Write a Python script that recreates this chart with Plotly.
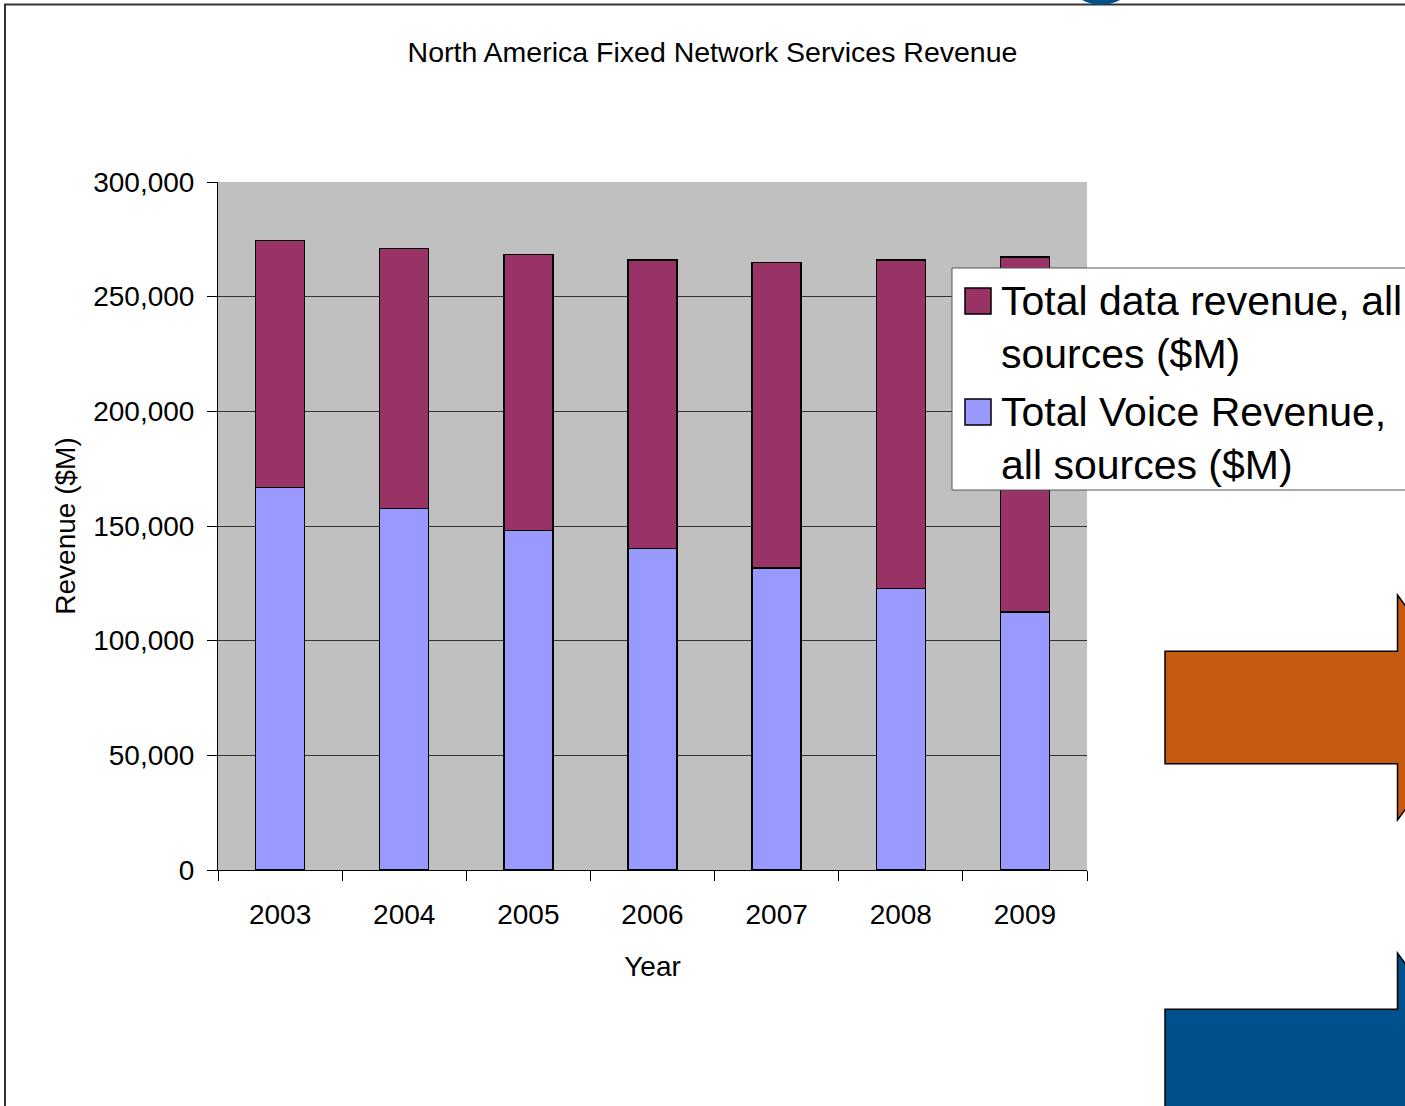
import plotly.graph_objects as go

# Revenue by year, $M
years = ["2003", "2004", "2005", "2006", "2007", "2008", "2009"]
voice_revenue = [166700, 157700, 148100, 140300, 131600, 122800, 112600]
data_revenue = [107900, 113200, 120200, 125700, 133400, 143200, 154800]

y_tick_vals = [0, 50000, 100000, 150000, 200000, 250000, 300000]
y_tick_text = ["0", "50,000", "100,000", "150,000", "200,000", "250,000", "300,000"]

data_name = "Total data revenue, all<br>sources ($M)"
voice_name = "Total Voice Revenue,<br>all sources ($M)"

DATA_COLOR = "#993366"
VOICE_COLOR = "#9999FF"
FONT = "Liberation Sans, Arial, sans-serif"

W, H = 1405, 1106
L, R, T, B = 218, 1087, 182, 870


def px(x):
    return (x - L) / (R - L)


def py(y):
    return (B - y) / (B - T)


fig = go.Figure()
fig.add_trace(go.Bar(
    x=years, y=voice_revenue, name=voice_name, width=0.395,
    marker=dict(color=VOICE_COLOR, line=dict(color="black", width=1.5)),
))
fig.add_trace(go.Bar(
    x=years, y=data_revenue, name=data_name, width=0.395,
    marker=dict(color=DATA_COLOR, line=dict(color="black", width=1.5)),
))

shapes = []

# outer frame of the slide panel
shapes.append(dict(
    type="path", xref="paper", yref="paper",
    path=f"M{px(5)},{py(1115)} L{px(5)},{py(4.5)} L{px(1415)},{py(4.5)}",
    line=dict(color="#333333", width=2),
))
# blue disc peeking in at the top edge
shapes.append(dict(
    type="circle", xref="paper", yref="paper",
    x0=px(1101 - 38.6), x1=px(1101 + 38.6), y0=py(5), y1=py(5 - 77.2),
    fillcolor="#00508C", line=dict(width=0),
))


def arrow_path(x0, xs, xt, yc, half_body, half_head):
    pts = [
        (x0, yc - half_body), (xs, yc - half_body), (xs, yc - half_head),
        (xt, yc), (xs, yc + half_head), (xs, yc + half_body), (x0, yc + half_body),
    ]
    return "M" + " L".join(f"{px(a)},{py(b)}" for a, b in pts) + " Z"


shapes.append(dict(
    type="path", xref="paper", yref="paper",
    path=arrow_path(1165, 1397.5, 1480, 707.5, 56.2, 112.5),
    fillcolor="#C55A11", line=dict(color="black", width=1.5),
))
shapes.append(dict(
    type="path", xref="paper", yref="paper",
    path=arrow_path(1165, 1397.5, 1480, 1065.5, 56.2, 112.5),
    fillcolor="#00508C", line=dict(color="black", width=1.5),
))

# legend panel
shapes.append(dict(
    type="rect", xref="paper", yref="paper",
    x0=px(952), x1=px(1430), y0=py(490), y1=py(268),
    fillcolor="white", line=dict(color="#555555", width=1),
))
shapes.append(dict(
    type="rect", xref="paper", yref="paper",
    x0=px(965), x1=px(991), y0=py(314), y1=py(288),
    fillcolor=DATA_COLOR, line=dict(color="black", width=1.5),
))
shapes.append(dict(
    type="rect", xref="paper", yref="paper",
    x0=px(965), x1=px(991), y0=py(425), y1=py(399),
    fillcolor=VOICE_COLOR, line=dict(color="black", width=1.5),
))

annotations = [
    dict(text=data_name, xref="paper", yref="paper", x=px(999), y=py(327.5),
         xanchor="left", yanchor="middle", align="left", showarrow=False,
         font=dict(family=FONT, size=41, color="black")),
    dict(text=voice_name, xref="paper", yref="paper", x=px(999), y=py(438),
         xanchor="left", yanchor="middle", align="left", showarrow=False,
         font=dict(family=FONT, size=41, color="black")),
]

fig.update_layout(
    width=W, height=H,
    margin=dict(l=L, r=W - R, t=T, b=H - B, pad=0),
    paper_bgcolor="white",
    plot_bgcolor="#C0C0C0",
    barmode="stack",
    showlegend=False,
    font=dict(family=FONT, size=28, color="black"),
    title=dict(
        text="North America Fixed Network Services Revenue",
        xref="container", yref="container",
        x=712.5 / W, y=1 - 52 / H, xanchor="center", yanchor="middle",
        font=dict(family=FONT, size=28.5, color="black"),
    ),
    xaxis=dict(
        type="category", tickson="boundaries",
        ticks="outside", ticklen=10, tickcolor="black", tickwidth=1,
        showline=True, linecolor="black", linewidth=1,
        showgrid=False, tickfont=dict(size=28), ticklabelstandoff=19,
        title=dict(text="Year", font=dict(size=28), standoff=27),
    ),
    yaxis=dict(
        range=[0, 300000], tickvals=y_tick_vals, ticktext=y_tick_text,
        ticks="outside", ticklen=10, tickcolor="black", tickwidth=1,
        showline=True, linecolor="black", linewidth=1,
        showgrid=True, gridcolor="#333333", gridwidth=1, zeroline=False,
        tickfont=dict(size=28), ticklabelstandoff=7,
        title=dict(text="Revenue ($M)", font=dict(size=28), standoff=9),
    ),
    shapes=shapes,
    annotations=annotations,
)

fig.write_html("out.html")
